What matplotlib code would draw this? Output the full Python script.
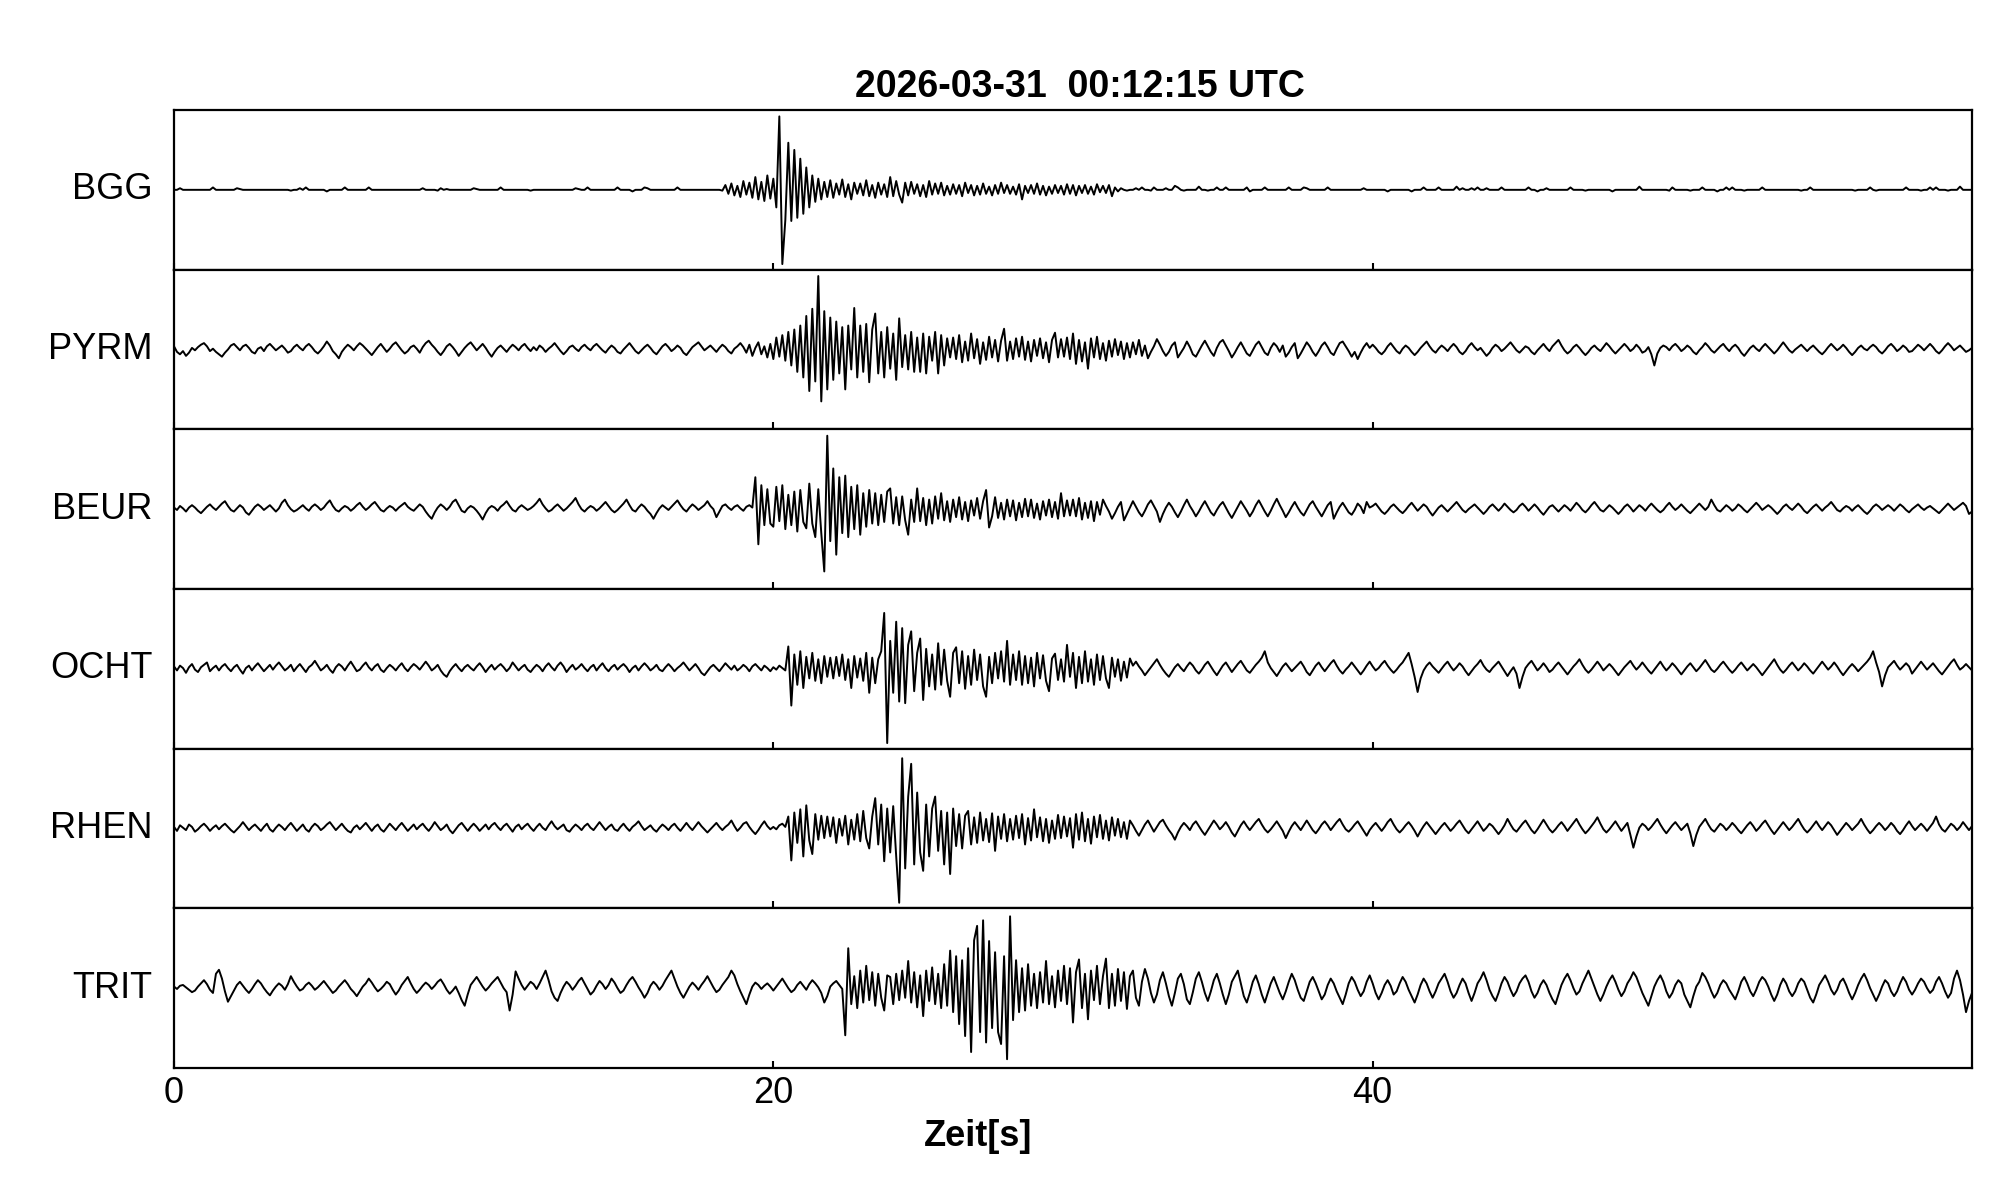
import numpy as np
import matplotlib
matplotlib.use("Agg")
import matplotlib.pyplot as plt

plt.rcParams['font.family'] = ['Liberation Sans', 'DejaVu Sans']

TITLE = "2026-03-31  00:12:15 UTC"
XLABEL = "Zeit[s]"
stations = ["BGG", "PYRM", "BEUR", "OCHT", "RHEN", "TRIT"]
xticks = [0, 20, 40]
DT = 0.1  # seconds per sample

# amplitudes in percent of half panel height, one value every 0.1 s (0 .. 60 s)
bgg = [
 0,0,2,0,0,0,0,0,0,0,0,0,0,3,0,0,0,0,0,0,
 0,2,1,0,0,0,0,0,0,0,0,0,0,0,0,0,0,0,0,-1,
 0,0,2,0,3,0,0,0,0,0,0,-2,0,0,0,0,0,3,0,0,
 0,0,0,0,0,3,0,0,0,0,0,0,0,0,0,0,0,0,0,0,
 0,0,0,2,0,0,0,0,-1,2,0,1,0,0,0,0,0,0,0,0,
 2,1,0,0,0,0,0,0,0,3,0,0,0,0,0,0,0,0,0,-1,
 0,0,0,0,0,0,0,0,0,0,0,0,0,0,2,1,0,0,3,0,
 0,0,0,0,0,0,0,0,3,0,0,0,0,-2,0,0,0,3,2,0,
 0,0,0,0,0,0,0,0,3,0,0,0,0,0,0,0,0,0,0,0,
 0,0,0,-1,6,-5,8,-7,5,-9,11,-6,9,-10,16,-12,10,-14,18,-11,
 14,-22,92,-93,-38,59,-39,50,-35,39,-30,28,-22,18,-15,14,-12,10,-9,12,
 -10,8,-6,13,-9,7,-12,9,-5,8,-7,12,-8,6,-10,9,-6,7,-9,16,
 -8,11,-6,-16,9,-7,10,-5,7,-8,6,-9,11,-6,8,-5,9,-7,5,-6,
 7,-5,6,-8,9,-4,6,-7,5,-6,8,-5,4,-7,6,-5,9,-4,6,-5,
 4,-6,7,-12,5,-4,6,-5,8,-6,5,-7,4,-5,6,-4,5,-6,7,-5,
 6,-7,5,-4,6,-5,4,-6,7,-3,5,-4,6,-8,3,-2,2,0,-1,0,
 0,2,0,3,0,0,-1,3,0,0,0,2,0,0,5,3,0,-1,0,0,
 0,0,4,0,0,-1,0,0,3,0,0,3,0,0,0,0,0,0,3,-2,
 0,0,0,0,3,0,0,0,0,0,0,0,3,0,0,0,0,3,2,0,
 0,0,0,0,0,3,0,0,0,0,0,0,0,0,0,0,0,2,0,0,
 0,0,0,0,0,-2,0,0,0,0,0,0,0,-2,0,0,0,3,0,0,
 0,0,3,0,0,0,0,0,4,0,2,0,0,2,0,3,0,0,2,0,
 0,0,0,3,0,0,0,0,0,0,0,0,3,0,0,-2,0,0,2,0,
 0,0,0,0,0,0,3,0,0,0,0,-1,0,0,0,0,0,0,0,0,
 -2,0,0,0,0,0,0,0,0,4,0,0,0,0,0,0,0,0,0,-1,
 3,0,0,0,0,0,-1,0,0,0,3,0,0,0,0,-2,0,0,3,0,
 3,0,0,0,-1,0,0,0,0,0,3,0,0,0,0,0,0,0,0,0,
 0,0,0,-1,0,0,3,0,0,0,0,0,0,0,0,0,0,0,0,0,
 0,-1,0,0,0,0,3,0,-1,0,0,0,0,0,0,0,0,0,3,0,
 0,0,0,-1,0,0,3,0,3,0,0,0,-1,0,0,0,4,0,0,0,
 0]

pyrm = [
 4,-3,-6,-2,-8,-4,2,-1,3,6,8,4,-2,1,-3,-6,-9,-4,0,5,
 7,3,-1,4,6,2,-3,-5,1,3,-2,4,7,3,-1,2,5,1,-4,-2,
 3,6,2,-1,4,7,3,-2,-5,-1,4,10,5,-2,-6,-11,-3,2,6,3,
 -1,4,8,5,1,-3,-7,-2,3,7,2,-3,1,6,9,4,-1,-5,-2,3,
 5,1,-4,3,8,11,6,2,-3,-7,-2,4,7,3,-2,-8,-3,2,6,9,
 4,-1,3,7,2,-4,-9,-3,2,5,1,-3,2,6,3,-1,4,7,2,-2,
 3,-1,5,2,-3,1,4,8,3,-2,-6,-2,3,5,1,-2,3,6,2,-1,
 4,7,3,-1,-4,1,5,2,-3,-5,0,4,8,3,-2,-5,-1,3,6,2,
 -3,-6,-1,4,7,3,-2,1,5,2,-4,-7,-2,3,6,9,4,-1,2,5,
 1,-3,2,6,3,-2,-5,1,4,8,3,-4,6,-8,2,9,-6,4,-10,7,
 -12,15,-9,18,-14,22,-20,25,-28,30,-35,42,-52,51,-40,92,-65,48,-50,40,
 -38,35,-30,28,-50,30,-25,52,-35,30,-28,32,-41,25,45,-30,22,-35,28,-24,
 20,-38,39,-22,18,-25,22,-28,15,-28,20,-30,16,-14,22,-30,18,-20,14,-10,
 15,-12,18,-16,10,-14,20,-11,13,-18,9,-13,16,-10,12,-15,11,26,-14,10,
 -12,14,-9,16,-13,10,-15,12,-8,14,-11,9,-16,12,21,-10,13,-9,15,-12,
 20,-18,12,-15,9,-24,14,-10,16,-12,8,-14,11,-9,13,-7,10,-12,8,-10,
 9,-6,12,-8,5,-11,-3,4,13,6,-2,-8,-3,5,9,-10,-4,2,10,3,
 -6,-9,-2,5,11,4,-3,-8,2,9,12,5,-2,-10,-4,3,9,2,-5,-8,
 -1,6,10,3,-4,-7,2,8,4,-3,5,-9,-4,3,8,-11,-5,2,9,4,
 -3,-8,-2,5,9,3,-4,-7,1,8,10,4,-2,-9,-3,-12,-4,3,8,2,
 6,2,-3,-6,-2,4,8,3,-2,-5,1,5,2,-3,-7,-3,2,6,10,4,
 -1,-4,1,5,2,-2,3,7,3,-3,-6,-2,4,8,3,-1,2,-3,-8,-4,
 2,6,3,-2,1,5,9,4,-1,-4,0,4,2,-3,-6,-1,3,7,2,-2,
 4,8,12,5,-1,-5,-2,3,6,2,-3,-7,-3,2,5,1,-2,3,8,4,
 -1,-5,-1,3,7,3,-2,1,6,2,-4,-2,3,-6,-20,-5,2,5,3,-1,
 4,7,3,-2,1,5,2,-3,-6,-1,3,8,4,-1,-4,0,4,7,2,-2,
 3,6,2,-4,-8,-3,2,5,1,-2,3,7,3,-1,-5,-1,4,9,4,-1,
 -4,0,3,6,2,-2,2,5,1,-3,-6,-2,3,7,3,-1,2,6,2,-3,
 -7,-3,2,5,1,-1,3,6,3,-2,-5,-1,4,7,3,-2,1,5,2,-3,
 -2,2,6,3,-1,3,7,3,-2,-5,-1,4,8,4,-1,2,5,1,-3,-1,
 2]

beur = [
 2,-1,4,1,-3,2,5,2,-2,-5,-1,3,6,2,-1,3,7,10,4,-1,
 -3,1,5,2,-4,-7,-2,3,6,3,-1,2,5,1,-3,1,8,12,5,0,
 -3,-1,2,5,1,-2,3,6,3,-1,2,7,11,4,-1,-3,1,4,2,-2,
 1,5,8,3,-1,2,6,9,4,-1,-3,1,4,2,-2,2,5,8,3,0,
 -2,2,6,3,-3,-8,-12,-4,2,6,3,-1,3,9,12,5,-2,-4,1,4,
 2,-2,-7,-13,-5,1,4,2,-2,3,6,10,4,-1,-3,2,5,2,-1,1,
 4,8,13,6,1,-3,-1,3,6,2,-2,1,5,9,14,6,0,-3,1,4,
 2,-2,1,5,9,4,-1,-4,-1,3,7,12,5,-1,-3,2,6,3,-2,-6,
 -12,-5,1,5,2,-1,3,7,11,5,0,-3,2,6,3,-1,2,5,10,4,
 0,-10,-3,4,6,2,-1,3,5,1,-2,3,5,2,40,-44,30,-20,25,-18,
 -22,28,-15,30,-25,18,-20,22,-28,24,-16,-24,32,-18,-35,25,-30,-78,92,-40,
 51,-57,40,-30,42,-35,28,-25,30,-32,20,-22,24,-18,20,-20,18,-16,22,26,
 -18,15,-20,16,-14,-32,12,-16,26,-15,14,-20,12,-18,16,-12,20,-14,10,-16,
 12,-10,15,-13,9,-15,11,-8,14,-12,10,24,-23,-9,15,-11,8,-13,12,-9,
 11,-14,8,-10,13,-9,12,-11,7,-13,10,-8,12,-10,9,-12,20,-9,11,-8,
 12,-9,14,-13,8,-11,10,-15,9,-7,12,4,-3,-12,-5,3,9,-14,-6,2,
 10,3,-4,-9,-2,6,11,4,-3,-16,-6,2,8,3,-4,-10,-3,5,12,4,
 -2,-9,-3,4,10,3,-4,-8,-1,5,9,2,-5,-11,-4,3,10,4,-2,-9,
 -3,5,11,4,-3,-9,-2,6,13,5,-2,-10,-4,3,9,2,-4,-8,-1,6,
 10,3,-3,-9,-2,5,9,-12,-4,3,8,2,-4,-7,-1,7,3,-5,9,2,
 4,7,2,-3,-6,-2,3,6,2,-2,-5,-1,4,8,3,-2,2,6,3,-3,
 -8,-3,2,5,1,-3,1,5,9,4,-1,-4,0,3,6,2,-2,-6,-2,3,
 6,2,-2,2,7,3,-1,-4,-1,4,7,3,-2,2,6,2,-3,-7,-2,3,
 5,1,-3,1,5,2,-2,3,8,4,-1,-4,0,5,9,4,-1,-3,1,5,
 2,-2,-6,-2,3,6,2,-3,1,5,2,-2,3,7,3,-1,-4,-1,4,8,
 3,-1,2,6,2,-2,-5,-1,3,7,3,-1,3,12,5,-1,-3,1,5,2,
 -2,1,6,3,-1,-4,0,4,8,4,-1,2,5,2,-2,-6,-2,3,6,2,
 -1,3,7,3,-2,-5,-1,3,6,2,-2,2,5,9,4,-1,-3,1,4,2,
 -2,2,5,1,-3,-6,-2,3,6,3,-1,2,5,2,-2,2,6,3,-1,-4,
 0,3,6,2,-1,2,4,1,-2,-5,-1,3,7,3,-1,2,5,8,4,-6,
 -3]

ocht = [
 3,-2,4,1,-5,2,6,-1,-4,2,5,8,-3,1,4,-2,3,6,1,-3,
 2,5,-1,-6,1,4,-2,3,7,2,-3,1,5,-1,4,8,3,-2,1,5,
 -3,2,6,1,-4,2,5,10,4,-2,1,5,-1,-5,2,6,3,-2,4,9,
 3,-3,-1,4,8,2,-2,3,6,-1,-4,1,5,2,-2,3,7,1,-3,2,
 6,3,-1,4,9,4,-2,1,5,-2,-7,-10,-3,2,6,1,-3,2,5,1,
 -2,3,7,2,-4,1,5,-1,3,6,2,-3,1,8,3,-2,2,5,-1,-4,
 1,5,2,-3,3,7,2,-2,4,8,3,-4,1,5,-1,2,6,1,-3,2,
 5,-2,3,7,1,-3,2,5,-1,3,6,2,-4,1,4,-2,3,7,3,-2,
 1,5,-1,-3,2,6,2,-3,1,4,8,3,-2,2,6,1,-5,-8,-3,2,
 5,1,-3,2,7,3,-1,4,-2,1,5,2,-3,3,6,2,-2,4,1,-3,
 2,-1,4,1,-2,28,-46,18,-20,22,-24,15,-12,20,-15,12,-18,16,-10,14,
 -12,15,-9,18,-14,12,-24,16,-11,13,-15,20,-30,14,-18,12,22,70,-93,35,
 -30,59,-41,51,-43,30,47,-28,20,38,-39,25,-22,18,-26,32,-20,24,-15,-35,
 20,27,-18,22,-25,16,-20,24,-14,18,-22,-35,15,-18,20,-12,22,-16,35,-20,
 18,-14,22,-20,16,-18,14,-22,20,-12,17,-15,-28,13,19,-14,12,-16,30,-10,
 20,-24,15,-18,22,-16,12,-20,18,-14,16,-12,-24,14,-10,12,-15,9,-11,13,
 4,9,3,-2,-8,-3,2,7,12,5,-1,-6,-10,-4,2,6,1,-3,3,8,
 4,-2,-6,-1,5,9,3,-3,-8,-2,4,8,2,-4,1,6,10,4,-2,-5,
 0,5,9,14,22,8,1,-4,-9,-3,3,7,2,-3,1,5,9,3,-4,-8,
 -2,4,8,2,-3,2,7,11,4,-2,-6,-1,3,8,3,-2,-7,-2,4,9,
 3,-2,1,6,10,4,-1,-5,-1,4,8,14,20,6,-10,-29,-12,-2,4,8,
 3,-1,-5,0,5,9,3,-2,2,7,3,-3,-8,-3,2,6,11,4,-1,-4,
 1,5,9,3,-3,-9,-3,2,-6,-24,-10,1,6,10,4,-2,2,7,2,-4,
 -1,4,8,3,-2,-7,-2,3,7,12,5,-1,-5,-1,4,9,4,-2,2,6,
 2,-3,-8,-3,2,6,10,4,-1,3,8,3,-2,-6,-1,4,9,3,-2,2,
 7,3,-2,-7,-2,3,7,2,-3,1,6,11,5,-1,-4,0,5,9,4,-1,
 -5,-1,4,8,3,-2,2,6,2,-3,-8,-3,2,7,12,5,-1,-5,-1,4,
 8,3,-2,2,7,3,-2,-6,-1,4,9,4,-1,3,8,3,-3,-8,-3,2,
 6,2,-3,1,5,9,14,22,8,-4,-22,-8,2,6,10,4,-1,3,7,3,
 -6,-1,4,9,4,-1,3,7,2,-3,-7,-2,3,8,12,5,-1,2,6,2,
 -2]

rhen = [
 2,-3,4,1,-2,5,2,-4,-1,3,6,2,-3,1,4,-1,3,6,2,-2,
 -5,-1,3,8,3,-2,2,5,1,-3,2,6,-1,-4,1,5,2,-2,3,7,
 2,-3,1,5,-1,-4,2,6,3,-2,1,5,8,3,-2,2,6,1,-3,-5,
 1,4,-1,3,7,2,-3,2,5,-1,-4,1,6,2,-2,3,7,2,-3,1,
 5,-1,3,6,1,-3,2,8,3,-2,1,5,-2,-6,-1,4,7,2,-3,2,
 6,2,-3,1,5,-1,4,7,2,-2,3,6,1,-4,2,5,-1,3,6,1,
 -3,2,6,1,-2,4,9,3,-1,2,5,-2,-4,1,5,2,-2,3,6,1,
 -2,3,8,3,-2,2,5,-1,-3,2,6,1,-3,2,5,9,3,-2,1,4,
 -1,-4,1,5,2,-2,3,6,1,-3,2,7,2,-2,3,8,3,-1,-5,-1,
 3,7,2,-2,2,5,10,3,-3,1,6,8,2,-3,-7,-2,4,9,3,-1,
 2,-1,4,6,2,15,-40,20,-18,24,-35,29,-15,-32,18,-14,16,-12,15,-10,
 14,-18,12,-9,16,-20,11,-14,18,-16,22,-12,-25,15,38,-20,30,-41,25,-30,
 28,-35,-93,88,-50,40,81,-45,45,-30,-53,30,-35,25,40,-28,22,-45,20,-57,
 25,-22,18,-25,16,22,-20,14,-18,20,-15,12,-17,19,-28,15,-13,18,-16,12,
 -14,16,-12,18,-20,13,-15,24,-11,14,-16,12,-18,10,-13,17,-12,15,-10,13,
 -24,18,-14,20,-16,12,-19,15,-11,17,-13,10,-15,14,-9,12,-11,8,-13,10,
 4,-3,-9,-2,5,10,3,-4,2,8,11,4,-2,-7,-14,-5,2,7,3,-2,
 5,9,3,-3,-8,-2,4,10,5,-1,3,8,2,-5,-10,-3,4,9,3,-2,
 3,8,12,5,-1,-5,-1,4,9,3,-3,-12,-4,3,8,3,-2,4,10,4,
 -2,-6,-1,5,9,4,-2,3,8,12,5,-1,-4,0,5,9,3,-3,-9,-2,
 3,7,2,-3,2,8,12,5,-1,-5,-1,4,8,3,-3,-10,-3,3,8,3,
 -2,-7,-2,3,7,2,-3,1,6,10,4,-2,-6,-1,4,9,3,-3,1,6,
 3,-2,-7,-2,4,12,5,-1,-4,1,6,10,4,-2,-6,-1,5,11,5,-1,
 -5,-1,4,8,3,-3,2,7,12,5,-1,-6,-2,3,8,14,6,-1,-5,-1,
 4,9,3,-3,2,7,-8,-24,-10,1,6,3,-2,2,7,12,5,-1,-6,-1,
 4,8,3,-2,2,6,-6,-22,-8,2,7,12,5,-1,-4,1,6,3,-2,2,
 7,3,-2,-6,-1,4,8,3,-3,1,6,10,4,-2,-7,-2,3,8,3,-2,
 2,7,12,5,-1,-5,-1,4,9,3,-2,3,8,4,-2,-8,-3,2,7,3,
 -2,2,6,12,5,-1,-6,-2,3,7,3,-2,2,7,3,-3,-7,-2,4,9,
 3,-2,2,6,2,-3,2,7,15,5,-1,-4,1,6,3,-2,2,8,3,-2,
 3]

trit = [
 2,-1,3,4,1,-2,-5,-3,2,6,10,5,-2,-6,18,23,12,-4,-17,-10,
 -3,4,8,3,-2,-6,-1,5,10,6,0,-5,-9,-3,2,6,3,-2,5,15,
 8,2,-3,-1,4,7,3,-2,1,5,9,4,-1,-6,-3,2,6,10,5,-1,
 -5,-10,-4,2,6,12,7,1,-4,-1,3,8,5,-2,-8,-3,4,9,14,6,
 -1,-6,-2,3,7,4,-1,3,8,11,5,-2,-7,-3,2,-6,-15,-22,-8,4,
 9,14,8,2,-3,1,6,10,14,7,0,-5,-28,-8,21,12,4,-2,3,8,
 5,-1,6,14,22,10,-4,-12,-16,-6,2,8,4,-2,3,9,13,6,-1,-8,
 -4,3,9,5,-1,4,12,7,0,-6,-3,4,10,14,8,1,-5,-12,-6,3,
 8,4,-2,3,10,16,22,12,2,-6,-12,-5,2,7,3,-2,4,9,15,8,
 1,-5,-2,4,9,14,22,16,5,-4,-12,-20,-8,2,7,4,-1,3,6,2,
 -3,2,7,12,6,0,-5,-2,4,8,3,-2,5,10,6,1,-6,-18,-10,2,
 6,9,4,-1,-59,50,-20,15,-25,22,-18,28,-15,20,-22,18,-12,-28,16,14,
 -20,18,-15,22,-12,34,-18,20,-24,16,-35,22,-16,26,-20,18,-25,30,-22,47,
 -30,40,-45,35,-60,50,-80,60,78,-55,85,-68,59,-50,45,-55,-70,40,-89,90,
 -40,35,-30,25,-28,30,-22,18,-25,20,-18,34,-20,15,-24,22,-16,28,-20,25,
 -43,20,36,-25,18,-39,22,-15,28,-20,15,37,-25,18,-22,24,-16,20,-26,15,
 22,-12,-22,8,24,12,-6,-18,-8,10,20,6,-10,-22,-6,12,18,5,-14,-20,
 -5,12,20,8,-6,-16,-4,10,18,6,-8,-20,-8,8,15,22,6,-10,-18,-6,
 8,16,5,-8,-18,-6,6,14,4,-6,-14,-4,8,18,10,-2,-12,-16,-4,8,
 14,6,-4,-14,-8,4,12,6,-4,-12,-20,-8,6,14,8,-2,-10,-4,8,16,
 6,-6,-14,-6,4,10,3,-8,-4,6,14,8,-2,-10,-18,-8,4,12,6,-4,
 -12,-4,6,12,18,8,-4,-12,-6,4,12,6,-6,-16,-6,6,12,20,10,-2,
 -10,-16,-6,6,14,8,-2,-10,-4,6,12,16,8,-4,-12,-6,4,10,4,-6,
 -14,-20,-8,4,12,18,10,0,-8,-4,6,14,22,12,2,-8,-16,-8,2,10,
 16,8,-2,-10,-4,6,12,20,14,4,-6,-14,-22,-10,2,10,16,8,-4,-12,
 -6,4,10,6,-8,-16,-24,-10,2,8,19,14,6,-4,-12,-6,4,10,6,-2,
 -8,-14,-4,8,14,6,-4,-10,-2,8,14,10,2,-8,-16,-8,4,12,6,-4,
 -10,-4,6,12,8,-2,-12,-18,-8,4,10,16,8,-2,-8,-2,8,12,4,-6,
 -14,-6,4,12,18,10,0,-8,-16,-8,2,10,6,-4,-10,-4,6,14,8,-2,
 -8,-2,6,12,8,0,-6,-2,8,14,6,-4,-12,-6,12,22,10,-8,-30,-16,
 -6]

traces = [bgg, pyrm, beur, ocht, rhen, trit]

W, H = 2005, 1202
fig = plt.figure(figsize=(W / 100, H / 100), dpi=100)
gs = fig.add_gridspec(len(stations), 1, left=174 / W, right=1972 / W,
                      top=1 - 110 / H, bottom=1 - 1068 / H, hspace=0)

FS = 26
for k, (name, y) in enumerate(zip(stations, traces)):
    ax = fig.add_subplot(gs[k, 0])
    y = np.asarray(y, dtype=float)
    t = np.arange(len(y)) * DT
    ax.plot(t, y, color='black', lw=1.4)
    ax.set_xlim(0, 60)
    ax.set_ylim(-100, 100)
    ax.set_yticks([])
    ax.set_xticks(xticks)
    ax.tick_params(axis='x', direction='in', length=5, width=1.5,
                   labelsize=FS, pad=6, top=False)
    for s in ax.spines.values():
        s.set_linewidth(1.6)
    if k < len(stations) - 1:
        ax.tick_params(axis='x', labelbottom=False)
    ax.text(-0.012, 0.5, name, transform=ax.transAxes, ha='right',
            va='center', fontsize=FS)

fig.text(1080 / W, 1 - 97 / H, TITLE, ha='center', va='baseline',
         fontsize=27, fontweight='bold')
fig.text(978 / W, 1 - 1136 / H, XLABEL, ha='center', va='center',
         fontsize=FS, fontweight='bold')

fig.savefig("out.png", dpi=100)
